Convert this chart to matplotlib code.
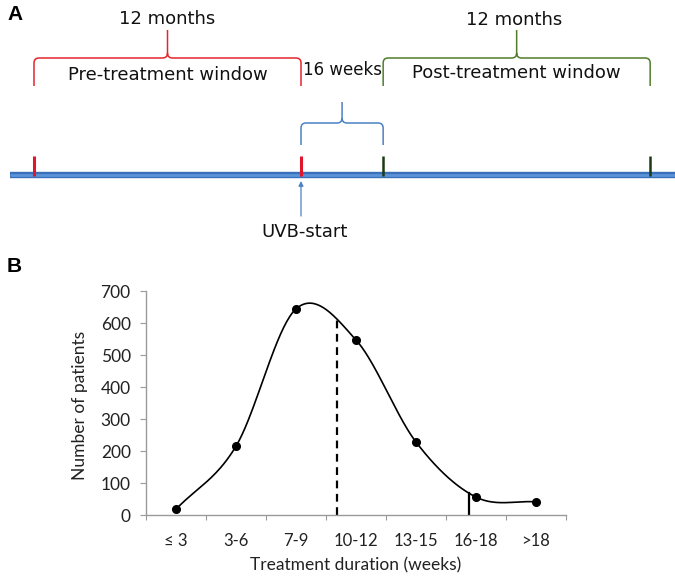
import numpy as np
import matplotlib
matplotlib.use("Agg")
import matplotlib.pyplot as plt
from matplotlib.path import Path
from matplotlib.patches import PathPatch

# ---- Panel A: study timeline (months, UVB start = 0) ----
WEEKS_PER_MONTH = 52 / 12
pre_window = 12                      # months
wait_weeks = 16
post_window = 12                     # months
pre_start = -pre_window
uvb_start = 0.0
wait_end = wait_weeks / WEEKS_PER_MONTH
post_end = wait_end + post_window

# ---- Panel B: treatment duration distribution ----
categories = ["\u2264 3", "3-6", "7-9", "10-12", "13-15", "16-18", ">18"]
patients = [18, 215, 644, 547, 228, 56, 41]
median_pos = 2.68      # dashed marker, in category units
cutoff_pos = 4.88      # 16-week cutoff marker

PX_PER_MONTH = 22.25


def catmull_rom(y, n=40):
    y = np.asarray(y, float)
    m = np.empty_like(y)
    m[1:-1] = (y[2:] - y[:-2]) / 2
    m[0] = y[1] - y[0]
    m[-1] = y[-1] - y[-2]
    xs, ys = [], []
    t = np.linspace(0, 1, n)
    h00 = 2 * t**3 - 3 * t**2 + 1
    h10 = t**3 - 2 * t**2 + t
    h01 = -2 * t**3 + 3 * t**2
    h11 = t**3 - t**2
    for i in range(len(y) - 1):
        xs.append(i + t)
        ys.append(h00 * y[i] + h10 * m[i] + h01 * y[i + 1] + h11 * m[i + 1])
    return np.concatenate(xs), np.concatenate(ys)


def brace(ax, x0, x1, y_h, y_end, y_tip, color, lw=1.1):
    xm = (x0 + x1) / 2
    rx = 5 / PX_PER_MONTH
    ry = 5
    verts = [(x0, y_end), (x0, y_h + ry), (x0, y_h), (x0 + rx, y_h),
             (xm - rx, y_h), (xm, y_h), (xm, y_h - ry), (xm, y_tip),
             (xm, y_h - ry), (xm, y_h), (xm + rx, y_h),
             (x1 - rx, y_h), (x1, y_h), (x1, y_h + ry), (x1, y_end)]
    codes = [Path.MOVETO, Path.LINETO, Path.CURVE3, Path.CURVE3,
             Path.LINETO, Path.CURVE3, Path.CURVE3, Path.LINETO,
             Path.MOVETO, Path.CURVE3, Path.CURVE3,
             Path.LINETO, Path.CURVE3, Path.CURVE3, Path.LINETO]
    ax.add_patch(PathPatch(Path(verts, codes), fill=False, edgecolor=color,
                           lw=lw, capstyle="butt", joinstyle="round"))
    return xm


fig = plt.figure(figsize=(6.75, 5.76), dpi=100)

# ---------------- Panel A ----------------
axa = fig.add_axes([0, 1 - 250 / 576, 1, 250 / 576])
axa.set_xlim(-301 / PX_PER_MONTH, (675 - 301) / PX_PER_MONTH)
axa.set_ylim(250, 0)
axa.axis("off")

red, green, blue = "#e3262d", "#4f7d2c", "#4d82c4"
font_a = dict(family="DejaVu Sans", fontsize=13, color="#111111")

# timeline bar
bar_x = [-291 / PX_PER_MONTH, (675 - 301) / PX_PER_MONTH]
axa.plot(bar_x, [175, 175], color="#3a6fbb", lw=4.6, solid_capstyle="butt")
axa.plot(bar_x, [175, 175], color="#5a94d8", lw=2.0, solid_capstyle="butt")

# window markers
for x in (pre_start, uvb_start):
    axa.plot([x, x], [156, 176], color="#e0162a", lw=2.2, solid_capstyle="butt")
for x in (wait_end, post_end):
    axa.plot([x, x], [156, 176], color="#1c3b12", lw=1.8, solid_capstyle="butt")

xm = brace(axa, pre_start, uvb_start, 58, 86, 30, red)
axa.text(xm, 24, "12 months", ha="center", va="baseline", **font_a)
axa.text(xm, 80, "Pre-treatment window", ha="center", va="baseline", **font_a)

xm = brace(axa, wait_end, post_end, 58, 86, 30, green)
axa.text(xm - 0.1, 25, "12 months", ha="center", va="baseline", **font_a)
axa.text(xm, 78, "Post-treatment window", ha="center", va="baseline", **font_a)

xm = brace(axa, uvb_start, wait_end, 123, 145, 102, blue)
axa.text(xm, 75, "%d weeks" % wait_weeks, ha="center", va="baseline",
         **dict(font_a, fontsize=12))

axa.annotate("", xy=(uvb_start, 181), xytext=(uvb_start, 216),
             arrowprops=dict(arrowstyle="-|>", color=blue, lw=0.9,
                             mutation_scale=7, shrinkA=0, shrinkB=0))
axa.text(uvb_start + 0.18, 237, "UVB-start", ha="center", va="baseline", **font_a)

fig.text(7 / 675, 1 - 20 / 576, "A", fontsize=15, fontweight="bold",
         family="Liberation Sans", va="baseline")
fig.text(7 / 675, 1 - 272 / 576, "B", fontsize=15, fontweight="bold",
         family="Liberation Sans", va="baseline")

# ---------------- Panel B ----------------
axb = fig.add_axes([146 / 675, 1 - 515 / 576, 420 / 675, 224 / 576])
x = np.arange(len(categories))
cx, cy = catmull_rom(patients)
axb.plot(cx, cy, color="black", lw=1.2, zorder=2)
axb.plot(x, patients, "o", color="black", ms=5.5, zorder=3)

median_top = np.interp(median_pos, cx, cy)
cutoff_top = np.interp(cutoff_pos, cx, cy)
axb.plot([median_pos, median_pos], [0, median_top], color="black", lw=1.6,
         ls=(0, (3.5, 2.5)), zorder=1)
axb.plot([cutoff_pos, cutoff_pos], [0, cutoff_top], color="black", lw=1.6,
         zorder=1)

axb.set_xlim(-0.5, len(categories) - 0.5)
axb.set_ylim(0, 700)
axb.set_yticks(np.arange(0, 701, 100))
axb.set_xticks(np.arange(-0.5, len(categories)), labels=[])
axb.set_xticks(x, labels=categories, minor=True)
for s in ("top", "right"):
    axb.spines[s].set_visible(False)
for s in ("left", "bottom"):
    axb.spines[s].set_color("#9a9a9a")
    axb.spines[s].set_linewidth(1.0)
axb.tick_params(axis="x", which="major", length=3.6, color="#9a9a9a")
axb.tick_params(axis="x", which="minor", length=0, pad=13, labelsize=12,
                labelcolor="#222222")
axb.tick_params(axis="y", length=4, color="#9a9a9a", pad=7, labelsize=12.5,
                labelcolor="#222222")
for lab in axb.get_xticklabels(minor=True) + axb.get_yticklabels():
    lab.set_family("Lato")

axb.set_ylabel("Number of patients", family="Lato", fontsize=12.5, color="#222222")
axb.set_xlabel("Treatment duration (weeks)", family="Lato", fontsize=12.5,
               color="#222222")
axb.yaxis.set_label_coords(-0.138, 0.487)
axb.xaxis.set_label_coords(0.5, -0.19)

fig.savefig("out.png", dpi=100, facecolor="white")
